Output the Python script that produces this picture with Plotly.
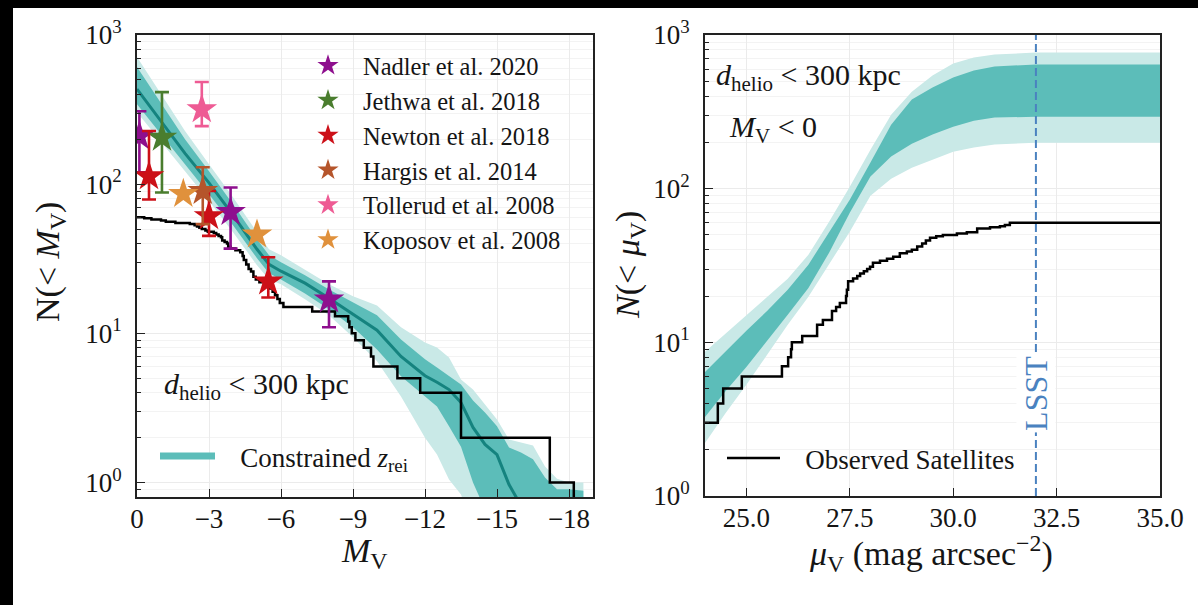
import math
import plotly.graph_objects as go

W, H = 1198, 605
FONT = "Liberation Serif"
INK = "#151515"

# ---------------- Left panel: N(<M_V) ----------------
mv_grid = [0, -1, -2, -3, -4, -5, -5.5, -6, -7, -8, -9, -10, -11, -12, -12.5, -13,
           -13.5, -14, -14.5, -15, -15.5, -16, -16.5, -17, -17.5, -18, -18.6]
mean_mv = [434, 265, 161, 102, 62, 36.6, 29.0, 26.1, 21.7, 17.2, 13.4, 10.5, 7.0, 5.2,
           4.7, 4.2, 3.44, 2.34, 1.80, 1.54, 0.97, 0.70]
dark_hi = [610, 350, 200, 122, 73.4, 42.8, 33.4, 30.0, 24.5, 19.7, 16.1, 13.2, 9.1, 6.7,
           5.9, 5.2, 4.55, 3.55, 2.95, 2.38, 1.72, 1.59, 1.43, 1.08, 0.90, 0.90, 0.88]
dark_lo = [344, 217, 136, 85.7, 53.1, 31.9, 25.3, 23.0, 18.5, 14.5, 11.0, 7.8, 5.15, 3.78,
           3.24, 2.38, 1.74, 1.0, 0.66, 0.5, 0.5, 0.5, 0.5, 0.5, 0.5, 0.5, 0.5]
light_hi = [712, 402, 227, 136, 81.8, 47.6, 36.6, 33.4, 26.5, 21.3, 17.7, 15.4, 11.0, 8.7,
            8.05, 6.9, 4.9, 4.2, 3.34, 2.65, 1.94, 1.86, 1.77, 1.28, 1.06, 1.0, 1.0]
light_lo = [304, 194, 122, 77, 47.6, 28.6, 23.0, 21.3, 16.9, 13.2, 9.4, 6.5, 3.78, 2.0,
            1.54, 1.05, 0.83, 0.5, 0.5, 0.5, 0.5, 0.5, 0.5, 0.5, 0.5, 0.5, 0.5]

# observed satellites, cumulative luminosity function (step positions, N)
obs_mv = [0, -0.3, -0.6, -1.0, -1.2, -1.6, -2.2, -2.4, -2.5, -2.6, -2.7, -2.85, -2.95,
          -3.2, -3.3, -3.4, -3.5, -3.55, -3.65, -3.75, -3.8, -3.9, -4.1, -4.3, -4.4,
          -4.45, -4.55, -4.65, -4.75, -4.85, -4.95, -5.1, -5.3, -5.55, -5.65, -5.75,
          -5.85, -5.95, -6.1, -7.3, -8.25, -8.8, -8.85, -8.95, -9.1, -9.45, -9.75,
          -9.85, -10.85, -11.8, -13.5, -17.2, -18.2]
obs_n = [60, 59, 58, 57, 56, 55, 54, 53, 52, 51, 50, 49, 48, 47, 46, 45, 44, 42, 41, 40,
         38, 37, 36, 35, 33, 31, 29, 27, 26, 24, 23, 22, 21, 20, 19, 18, 17, 16, 15, 14,
         13, 12, 11, 10, 9, 8, 7, 6, 5, 4, 2, 1, 0.5]

# literature predictions
studies = ["Nadler et al. 2020", "Jethwa et al. 2018", "Newton et al. 2018",
           "Hargis et al. 2014", "Tollerud et al. 2008", "Koposov et al. 2008"]
study_colors = ["#8e0f8e", "#4a7d2e", "#cc1018", "#b5552b", "#ee5b94", "#e0913c"]
study_mv = [[-0.1, -3.9, -8.0], [-1.04], [-0.5, -3.0, -5.47], [-2.74], [-2.7], [-1.93, -5.0]]
study_n = [[210, 65, 16.9], [205], [113, 61, 22.3], [90], [318], [86, 46]]
study_up = [[98, 30, 5.4], [209], [114, 29, 10.1], [40], [166], None]
study_dn = [[90, 28, 5.9], [117], [34, 16, 4.9], [36], [73], None]

# ---------------- Right panel: N(<mu_V) ----------------
mu_grid = [24, 24.5, 25, 25.5, 26, 26.5, 27, 27.5, 28, 28.5, 29, 29.5, 30, 30.5, 31, 32, 35]
r_dark_hi = [6.42, 8.8, 11.9, 16.0, 22.0, 32.0, 51.7, 84.8, 148, 261, 380, 455, 529, 587, 624, 643, 643]
r_dark_lo = [3.27, 4.83, 6.92, 10.2, 15.1, 22.6, 38.3, 69.8, 120, 162, 196, 225, 253, 277, 290, 294, 294]
r_light_hi = [8.67, 11.4, 14.9, 19.8, 25.9, 37.2, 61, 103, 179, 303, 428, 545, 652, 713, 746, 769, 769]
r_light_lo = [2.21, 3.47, 5.29, 8.29, 13.0, 19.8, 32.0, 52.5, 90, 116, 137, 155, 174, 185, 194, 199, 199]

obs_mu = [24.0, 24.31, 24.44, 24.89, 25.86, 26.01, 26.08, 26.10, 26.35, 26.71, 26.85, 27.07,
          27.17, 27.26, 27.41, 27.43, 27.46, 27.58, 27.68, 27.75, 27.84, 27.92, 27.99, 28.06,
          28.23, 28.40, 28.55, 28.71, 28.88, 29.00, 29.13, 29.25, 29.34, 29.44, 29.59, 29.75,
          30.09, 30.33, 30.58, 30.89, 31.13, 31.25, 31.37, 35.0]
obs_n_mu = [3, 4, 5, 6, 7, 8, 9, 10, 11, 13, 14, 16, 17, 18, 20, 22, 25, 26, 27, 28, 29, 30,
            31, 33, 34, 35, 36, 38, 39, 40, 42, 44, 46, 48, 49, 50, 51, 52, 55, 56, 57, 58,
            60, 60]
lsst_mu = 32.0

# ---------------- styling ----------------
TEAL_DARK = "#5cbdb9"
TEAL_LIGHT = "#c9e9e7"
TEAL_LINE = "#15837f"
LSST_COL = "#4a82c0"
NBSP = "\u00a0"


def px(xp):
    return xp / W


def py(yp):
    return 1 - yp / H


fig = go.Figure()


def band(x, lo, hi, color, xa, ya):
    fig.add_trace(go.Scatter(x=x, y=lo, mode="lines", line=dict(width=0, color=color),
                             showlegend=False, hoverinfo="skip", xaxis=xa, yaxis=ya))
    fig.add_trace(go.Scatter(x=x, y=hi, mode="lines", line=dict(width=0, color=color),
                             fill="tonexty", fillcolor=color, showlegend=False,
                             hoverinfo="skip", xaxis=xa, yaxis=ya))


# left panel
band(mv_grid, light_lo, light_hi, TEAL_LIGHT, "x", "y")
band(mv_grid, dark_lo, dark_hi, TEAL_DARK, "x", "y")
fig.add_trace(go.Scatter(x=mv_grid[:len(mean_mv)], y=mean_mv, mode="lines",
                         line=dict(color=TEAL_LINE, width=3), showlegend=False,
                         xaxis="x", yaxis="y"))
fig.add_trace(go.Scatter(x=[None], y=[None], mode="lines",
                         line=dict(color=TEAL_DARK, width=7),
                         name=NBSP * 3 + "Constrained <i>z</i><sub>rei</sub>", legend="legend2",
                         xaxis="x", yaxis="y"))
fig.add_trace(go.Scatter(x=obs_mv, y=obs_n, mode="lines", line=dict(color="black", width=2.5, shape="hv"),
                         showlegend=False, xaxis="x", yaxis="y"))

for name, col, xs, ys, up, dn in zip(studies, study_colors, study_mv, study_n, study_up, study_dn):
    err = None
    if up is not None:
        err = dict(type="data", symmetric=False, array=up, arrayminus=dn,
                   color=col, thickness=2.6, width=7)
    fig.add_trace(go.Scatter(x=xs, y=ys, mode="markers", name=name,
                             marker=dict(symbol="star", size=23, color=col, line=dict(width=0)),
                             error_y=err, legend="legend", xaxis="x", yaxis="y"))

# right panel
band(mu_grid, r_light_lo, r_light_hi, TEAL_LIGHT, "x2", "y2")
band(mu_grid, r_dark_lo, r_dark_hi, TEAL_DARK, "x2", "y2")
fig.add_trace(go.Scatter(x=[lsst_mu, lsst_mu], y=[1, 1000], mode="lines",
                         line=dict(color=LSST_COL, width=2, dash="8px,4px"),
                         showlegend=False, xaxis="x2", yaxis="y2"))
fig.add_trace(go.Scatter(x=obs_mu, y=obs_n_mu, mode="lines",
                         line=dict(color="black", width=2.5, shape="hv"),
                         name=NBSP * 3 + "Observed Satellites", legend="legend3",
                         xaxis="x2", yaxis="y2"))

tickfont = dict(family=FONT, size=27, color=INK)
minor_vals = [0.9] + [m * 10 ** e for e in range(0, 3) for m in range(2, 10)]
common_axis = dict(showline=True, linecolor="#222", linewidth=1.6, mirror=True,
                   ticks="inside", ticklen=8, tickwidth=1.2, tickcolor="#222",
                   showgrid=True, gridcolor="#ebebeb", gridwidth=1, zeroline=False,
                   tickfont=tickfont, automargin=False)
ylog = dict(type="log", tickvals=[1, 10, 100, 1000],
            ticktext=["10<sup>0</sup>", "10<sup>1</sup>", "10<sup>2</sup>", "10<sup>3</sup>"],
            minor=dict(tickmode="array", tickvals=minor_vals, ticks="inside", ticklen=4,
                       tickwidth=1, tickcolor="#222", showgrid=True, gridcolor="#f3f3f3"),
            ticklabelstandoff=8)

legend_common = dict(xanchor="left", yanchor="top", bgcolor="rgba(0,0,0,0)",
                     traceorder="normal")

fig.update_layout(
    width=W, height=H, margin=dict(l=0, r=0, t=0, b=0, autoexpand=False),
    paper_bgcolor="black", plot_bgcolor="white",
    font=dict(family=FONT, color=INK),
    xaxis=dict(domain=[px(137), px(593)], range=[0, -19],
               tickvals=[0, -3, -6, -9, -12, -15, -18],
               ticktext=["0", "\u22123", "\u22126", "\u22129", "\u221212", "\u221215", "\u221218"],
               anchor="y", ticklabelstandoff=-3, **common_axis),
    yaxis=dict(domain=[py(497), py(35)], range=[math.log10(0.8), 3], anchor="x",
               **ylog, **common_axis),
    xaxis2=dict(domain=[px(705), px(1160)], range=[24, 35],
                tickvals=[25, 27.5, 30, 32.5, 35],
                ticktext=["25.0", "27.5", "30.0", "32.5", "35.0"],
                anchor="y2", ticklabelstandoff=-3, **common_axis),
    yaxis2=dict(domain=[py(496), py(35)], range=[0, 3], anchor="x2",
                **ylog, **common_axis),
    legend=dict(x=px(293), y=py(43), font=dict(family=FONT, size=24.5, color=INK),
                itemwidth=60, **legend_common),
    legend2=dict(x=px(155), y=py(432), font=dict(family=FONT, size=27, color=INK),
                 itemwidth=55, **legend_common),
    legend3=dict(x=px(722), y=py(434), font=dict(family=FONT, size=27, color=INK),
                 itemwidth=53, **legend_common),
    shapes=[dict(type="rect", xref="paper", yref="paper", x0=px(13), x1=1, y0=0, y1=py(8),
                 fillcolor="white", line=dict(width=0), layer="below")],
)

ann = []
ann.append(dict(text="<i>d</i><sub>helio</sub> &lt; 300 kpc", x=px(162), y=py(386),
                xanchor="left", yanchor="middle", font=dict(size=30)))
ann.append(dict(text="<i>d</i><sub>helio</sub> &lt; 300 kpc", x=px(714), y=py(77),
                xanchor="left", yanchor="middle", font=dict(size=30)))
ann.append(dict(text="<i>M</i><sub>V</sub> &lt; 0", x=px(727), y=py(129),
                xanchor="left", yanchor="middle", font=dict(size=30)))
ann.append(dict(text="<i>M</i><sub>V</sub>", x=px(364), y=py(553),
                xanchor="center", yanchor="middle", font=dict(size=34)))
ann.append(dict(text="N(&lt; <i>M</i><sub>V</sub>)", x=px(50), y=py(262), textangle=-90,
                xanchor="center", yanchor="middle", font=dict(size=34)))
ann.append(dict(text="<i>\u03bc</i><sub>V</sub> (mag arcsec<sup>\u22122</sup>)", x=px(931), y=py(553),
                xanchor="center", yanchor="middle", font=dict(size=34)))
ann.append(dict(text="<i>N</i>(&lt; <i>\u03bc</i><sub>V</sub>)", x=px(630), y=py(265), textangle=-90,
                xanchor="center", yanchor="middle", font=dict(size=34)))
for a in ann:
    a.update(xref="paper", yref="paper", showarrow=False)
    a["font"].update(family=FONT, color=INK)
ann.append(dict(text="LSST", xref="x2", x=lsst_mu, yref="paper", y=py(393), textangle=-90,
                showarrow=False, bgcolor="white", borderpad=1,
                font=dict(family=FONT, size=32, color=LSST_COL)))
fig.update_layout(annotations=ann)

fig.write_html("out.html")
